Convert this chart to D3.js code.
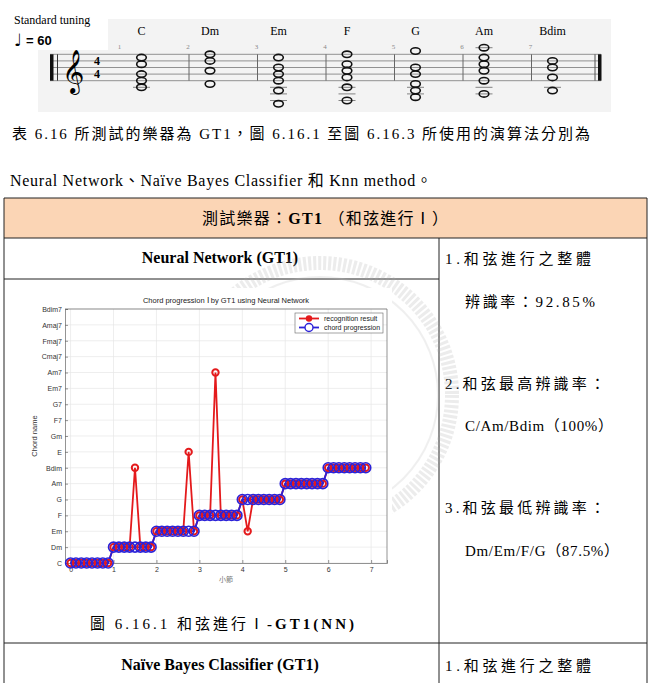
<!DOCTYPE html>
<html>
<head>
<meta charset="utf-8">
<script src="https://cdn.jsdelivr.net/npm/d3@7"></script>
<style>
  body { margin: 0; background: #fff; }
  svg text { font-family: "Liberation Serif", "Noto Sans CJK TC", serif; fill: #000; }
  .ax text { font-family: "Liberation Sans", Arial, sans-serif; font-size: 7px; fill: #333; }
</style>
</head>
<body>
<div id="page"></div>
<script>
// chord categories on the y axis (bottom to top)
const chordNames = ['C', 'Dm', 'Em', 'F', 'G', 'Am', 'Bdim', 'E', 'Gm', 'F7', 'G7', 'Em7', 'Am7', 'Cmaj7', 'Fmaj7', 'Amaj7', 'Bdim7']
const xTicks = [0, 1, 2, 3, 4, 5, 6, 7]
const frameStep = 0.125 // eight frames per bar

// chord progression (index into chordNames), 8 frames per bar
const progression = [
  0, 0, 0, 0, 0, 0, 0, 0,
  1, 1, 1, 1, 1, 1, 1, 1,
  2, 2, 2, 2, 2, 2, 2, 2,
  3, 3, 3, 3, 3, 3, 3, 3,
  4, 4, 4, 4, 4, 4, 4, 4,
  5, 5, 5, 5, 5, 5, 5, 5,
  6, 6, 6, 6, 6, 6, 6, 6
]
// recognition result of the neural network
const recognition = [
  0, 0, 0, 0, 0, 0, 0, 0,
  1, 1, 1, 1, 6, 1, 1, 1,
  2, 2, 2, 2, 2, 2, 7, 2,
  3, 3, 3, 12, 3, 3, 3, 3,
  4, 2, 4, 4, 4, 4, 4, 4,
  5, 5, 5, 5, 5, 5, 5, 5,
  6, 6, 6, 6, 6, 6, 6, 6
]

// staff notation: chord names and note positions (0 = bottom line E4)
const staffChords = ['C', 'Dm', 'Em', 'F', 'G', 'Am', 'Bdim']
const staffNotes = [
  [-2, 0, 2, 5, 7],
  [-1, 3, 6, 8],
  [-7, -3, 0, 2, 4, 7],
  [-6, -2, 1, 3, 5, 8],
  [-5, -3, -1, 2, 4, 9],
  [-4, 0, 3, 5, 7, 10],
  [-3, 1, 4, 6]
]

const width = 651
const height = 683
const svg = d3.select('#page').append('svg')
  .attr('width', width)
  .attr('height', height)

svg.append('rect').attr('width', width).attr('height', height).attr('fill', '#fff')

// ---------- staff image ----------
const score = svg.append('g')
score.append('rect').attr('x', 38).attr('y', 19).attr('width', 573).attr('height', 93).attr('fill', '#f3f3f3')
score.append('rect').attr('x', 8).attr('y', 8).attr('width', 100).attr('height', 42).attr('fill', '#fff')
score.append('text').attr('x', 14).attr('y', 24).style('font-size', '12px').text('Standard tuning')
score.append('text').attr('x', 14).attr('y', 46)
  .style('font-family', 'DejaVu Sans').style('font-size', '17px').text('♩')
score.append('text').attr('x', 26).attr('y', 45)
  .style('font-family', 'Liberation Sans').style('font-size', '13px').style('font-weight', 'bold').text('= 60')

const staffY = d3.scaleLinear().domain([0, 8]).range([80.7, 54.3])
const barX = d3.scaleLinear().domain([0, 7]).range([120.5, 600])

score.append('g').selectAll('line').data([0, 2, 4, 6, 8]).join('line')
  .attr('x1', 50).attr('x2', 601)
  .attr('y1', d => staffY(d)).attr('y2', d => staffY(d))
  .attr('stroke', '#777').attr('stroke-width', 0.8)

// start / end bar lines
score.append('rect').attr('x', 50).attr('y', staffY(8)).attr('width', 3.5).attr('height', staffY(0) - staffY(8)).attr('fill', '#111')
score.append('line').attr('x1', 57.5).attr('x2', 57.5).attr('y1', staffY(8)).attr('y2', staffY(0)).attr('stroke', '#333')
score.append('line').attr('x1', 595).attr('x2', 595).attr('y1', staffY(8)).attr('y2', staffY(0)).attr('stroke', '#555')
score.append('rect').attr('x', 598).attr('y', staffY(8)).attr('width', 3.5).attr('height', staffY(0) - staffY(8)).attr('fill', '#111')

score.append('text').attr('x', 62).attr('y', 84)
  .style('font-family', 'DejaVu Sans').style('font-size', '38px').text('𝄞')
score.selectAll('.ts').data([staffY(6), staffY(2)]).join('text')
  .attr('class', 'ts')
  .attr('x', 97).attr('y', d => d + 4)
  .attr('text-anchor', 'middle')
  .style('font-size', '12px').style('font-weight', 'bold')
  .text('4')

// inner bar lines and measure numbers
score.selectAll('.bl').data(d3.range(1, 7)).join('line')
  .attr('class', 'bl')
  .attr('x1', d => barX(d)).attr('x2', d => barX(d))
  .attr('y1', staffY(8)).attr('y2', staffY(0))
  .attr('stroke', '#666').attr('stroke-width', 1)
score.selectAll('.mn').data(d3.range(0, 7)).join('text')
  .attr('class', 'mn')
  .attr('x', d => barX(d) - 1).attr('y', 49)
  .attr('text-anchor', 'middle')
  .style('font-size', '7px').style('fill', '#888')
  .text(d => d + 1)

score.selectAll('.cn').data(staffChords).join('text')
  .attr('class', 'cn')
  .attr('x', (d, i) => barX(i) + 21).attr('y', 35)
  .attr('text-anchor', 'middle')
  .style('font-size', '12px')
  .text(d => d)

staffNotes.forEach((notes, i) => {
  const cx = barX(i) + 21
  const g = score.append('g')
  // ledger lines
  const ledgers = []
  notes.forEach(p => {
    for (let l = -2; l >= p; l -= 2) if (!ledgers.includes(l)) ledgers.push(l)
    for (let l = 10; l <= p; l += 2) if (!ledgers.includes(l)) ledgers.push(l)
  })
  g.selectAll('line').data(ledgers).join('line')
    .attr('x1', cx - 8.5).attr('x2', cx + 8.5)
    .attr('y1', d => staffY(d)).attr('y2', d => staffY(d))
    .attr('stroke', '#666').attr('stroke-width', 0.8)
  g.selectAll('ellipse').data(notes).join('ellipse')
    .attr('cx', cx).attr('cy', d => staffY(d))
    .attr('rx', 4.8).attr('ry', 3.2)
    .attr('fill', 'none').attr('stroke', '#111').attr('stroke-width', 1.6)
})

// ---------- body text ----------
svg.append('text').attr('x', 12).attr('y', 139)
  .attr('textLength', 578).attr('lengthAdjust', 'spacing')
  .style('font-size', '15px')
  .text('表 6.16 所測試的樂器為 GT1，圖 6.16.1 至圖 6.16.3 所使用的演算法分別為')
svg.append('text').attr('x', 10).attr('y', 186)
  .attr('textLength', 422).attr('lengthAdjust', 'spacing')
  .style('font-size', '16px')
  .text('Neural Network、Naïve Bayes Classifier 和 Knn method。')

// ---------- table ----------
const colX = 439
const table = svg.append('g')
table.append('rect').attr('x', 4).attr('y', 198).attr('width', 643).attr('height', 40).attr('fill', '#fbd5b5')

// faint watermark behind the figure
const wm = svg.append('g').attr('opacity', 0.22)
wm.append('circle').attr('cx', 320).attr('cy', 395).attr('r', 132)
  .attr('fill', 'none').attr('stroke', '#aaa').attr('stroke-width', 14)
  .attr('stroke-dasharray', '3 2')
wm.append('circle').attr('cx', 320).attr('cy', 395).attr('r', 118)
  .attr('fill', 'none').attr('stroke', '#bbb').attr('stroke-width', 2)

const hLines = [[4, 647, 198], [4, 647, 238], [4, colX, 279], [4, 647, 643]]
table.selectAll('.h').data(hLines).join('line')
  .attr('class', 'h')
  .attr('x1', d => d[0]).attr('x2', d => d[1]).attr('y1', d => d[2]).attr('y2', d => d[2])
  .attr('stroke', '#222').attr('stroke-width', 1)
const vLines = [[4, 198, 683], [647, 198, 683], [colX, 238, 683]]
table.selectAll('.v').data(vLines).join('line')
  .attr('class', 'v')
  .attr('x1', d => d[0]).attr('x2', d => d[0]).attr('y1', d => d[1]).attr('y2', d => d[2])
  .attr('stroke', '#222').attr('stroke-width', 1)

const head = table.append('text').attr('x', 325).attr('y', 224).attr('text-anchor', 'middle')
  .attr('textLength', 246).attr('lengthAdjust', 'spacing').style('font-size', '16px')
head.append('tspan').text('測試樂器：')
head.append('tspan').style('font-weight', 'bold').text('GT1')
head.append('tspan').text(' （和弦進行Ⅰ）')

table.append('text').attr('x', 220).attr('y', 263).attr('text-anchor', 'middle')
  .style('font-size', '16px').style('font-weight', 'bold').text('Neural Network (GT1)')
table.append('text').attr('x', 220).attr('y', 670).attr('text-anchor', 'middle')
  .style('font-size', '16px').style('font-weight', 'bold').text('Naïve Bayes Classifier (GT1)')

const cap = table.append('text').attr('x', 90).attr('y', 629)
  .attr('textLength', 264).attr('lengthAdjust', 'spacing').style('font-size', '15px')
cap.append('tspan').text('圖 6.16.1 和弦進行Ⅰ')
cap.append('tspan').style('font-weight', 'bold').text('-GT1(NN)')

// text, x, baseline y, width
const notes = [
  ['1.和弦進行之整體', 445, 264, 146],
  ['辨識率：92.85%', 465, 307, 130],
  ['2.和弦最高辨識率：', 445, 389, 160],
  ['C/Am/Bdim（100%）', 465, 431, 148],
  ['3.和弦最低辨識率：', 445, 513, 160],
  ['Dm/Em/F/G（87.5%）', 465, 556, 154],
  ['1.和弦進行之整體', 445, 671, 146]
]
table.selectAll('.note').data(notes).join('text')
  .attr('class', 'note')
  .attr('x', d => d[1]).attr('y', d => d[2])
  .attr('textLength', d => d[3]).attr('lengthAdjust', 'spacing')
  .style('font-size', '15px')
  .text(d => d[0])

// ---------- chart ----------
const chart = svg.append('g')
chart.append('rect').attr('x', 18).attr('y', 288).attr('width', 374).attr('height', 306).attr('fill', '#fff')

const x = d3.scaleLinear().domain([-0.13, 7.37]).range([65, 387])
const y = d3.scaleLinear().domain([0, chordNames.length - 1]).range([563, 309])

// grid
chart.append('g').selectAll('line').data(xTicks).join('line')
  .attr('x1', d => x(d)).attr('x2', d => x(d)).attr('y1', y.range()[1]).attr('y2', y.range()[0])
  .attr('stroke', '#e6e6e6').attr('stroke-width', 0.7)
chart.append('g').selectAll('line').data(d3.range(chordNames.length)).join('line')
  .attr('x1', x.range()[0]).attr('x2', x.range()[1]).attr('y1', d => y(d)).attr('y2', d => y(d))
  .attr('stroke', '#e6e6e6').attr('stroke-width', 0.7)

const xAxis = d3.axisBottom(x).tickValues(xTicks).tickSize(-3).tickPadding(4)
const yAxis = d3.axisLeft(y).tickValues(d3.range(chordNames.length))
  .tickFormat(i => chordNames[i]).tickSize(-3).tickPadding(3)

chart.append('g').attr('class', 'ax').attr('transform', `translate(0,${y.range()[0]})`).call(xAxis)
chart.append('g').attr('class', 'ax').attr('transform', `translate(${x.range()[0]},0)`).call(yAxis)
chart.selectAll('.ax path, .ax line').attr('stroke', '#666').attr('stroke-width', 0.7)
// top and right box edges
chart.append('path')
  .attr('d', `M${x.range()[0]},${y.range()[1]}H${x.range()[1]}V${y.range()[0]}`)
  .attr('fill', 'none').attr('stroke', '#666').attr('stroke-width', 0.7)

chart.append('text').attr('x', 226).attr('y', 303).attr('text-anchor', 'middle')
  .style('font-family', 'Liberation Sans').style('font-size', '7.5px').style('fill', '#222')
  .text('Chord progression  Ⅰ  by GT1 using Neural Network')
chart.append('text').attr('transform', 'translate(37,436) rotate(-90)').attr('text-anchor', 'middle')
  .style('font-family', 'Liberation Sans').style('font-size', '7.5px').style('fill', '#333')
  .text('Chord name')
chart.append('text').attr('x', 226).attr('y', 582).attr('text-anchor', 'middle')
  .style('font-family', 'Noto Sans CJK TC').style('font-size', '7px').style('fill', '#777')
  .text('小節')

const line = d3.line().x((d, i) => x(i * frameStep)).y(d => y(d))

const series = [
  { name: 'recognition result', values: recognition, color: '#e41a1c', r: 3.2, sw: 2 },
  { name: 'chord progression', values: progression, color: '#2b22d8', r: 5, sw: 1.6 }
]

series.forEach(s => {
  chart.append('path').datum(s.values)
    .attr('d', line)
    .attr('fill', 'none').attr('stroke', s.color).attr('stroke-width', 1.8)
})
series.forEach(s => {
  chart.append('g').selectAll('circle').data(s.values).join('circle')
    .attr('cx', (d, i) => x(i * frameStep)).attr('cy', d => y(d))
    .attr('r', s.r)
    .attr('fill', 'none').attr('stroke', s.color).attr('stroke-width', s.sw)
})

// legend
const lg = chart.append('g').attr('transform', 'translate(295,313)')
lg.append('rect').attr('width', 88).attr('height', 20).attr('fill', '#fff').attr('stroke', '#666').attr('stroke-width', 0.6)
series.forEach((s, i) => {
  const row = lg.append('g').attr('transform', `translate(0,${5.5 + i * 9})`)
  row.append('line').attr('x1', 4).attr('x2', 24).attr('stroke', s.color).attr('stroke-width', 1.8)
  row.append('circle').attr('cx', 14).attr('r', i === 0 ? 2.5 : 4).attr('fill', i === 0 ? s.color : '#fff')
    .attr('stroke', s.color).attr('stroke-width', 1.4)
  row.append('text').attr('x', 29).attr('y', 2.5)
    .style('font-family', 'Liberation Sans').style('font-size', '7px').style('fill', '#222')
    .text(s.name)
})
</script>
</body>
</html>
